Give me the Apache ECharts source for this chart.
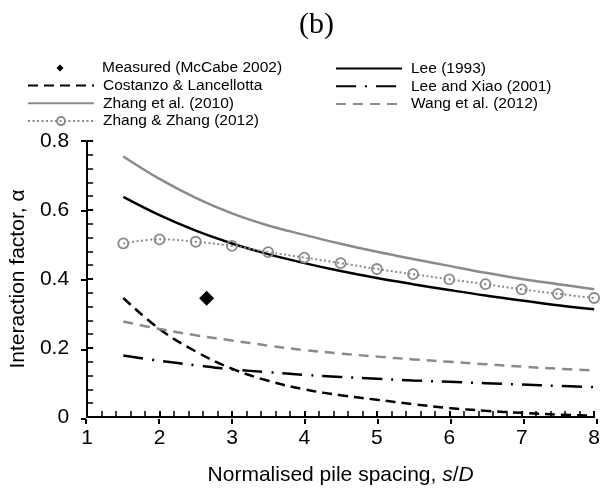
<!DOCTYPE html>
<html>
<head>
<meta charset="utf-8">
<script src="https://cdn.jsdelivr.net/npm/echarts@6/dist/echarts.min.js"></script>
<style>html,body{margin:0;padding:0;background:#fff}#c{width:603px;height:491px}</style>
</head>
<body>
<div id="c"></div>
<script>
var spacing = [1.5, 2, 2.5, 3, 3.5, 4, 4.5, 5, 5.5, 6, 6.5, 7, 7.5, 8];
var lee1993 = [0.638, 0.585, 0.54, 0.503, 0.472, 0.446, 0.423, 0.403, 0.385, 0.368, 0.352, 0.338, 0.324, 0.312];
var zhang2010 = [0.755, 0.69, 0.635, 0.59, 0.555, 0.528, 0.502, 0.479, 0.458, 0.438, 0.418, 0.40, 0.385, 0.37];
var zhangZhang2012 = [0.503, 0.515, 0.508, 0.496, 0.478, 0.462, 0.446, 0.429, 0.414, 0.399, 0.385, 0.370, 0.357, 0.345];
var costanzo = [0.345, 0.255, 0.19, 0.14, 0.105, 0.08, 0.063, 0.05, 0.037, 0.026, 0.018, 0.012, 0.007, 0.004];
var leeXiao2001 = [0.178, 0.163, 0.15, 0.138, 0.13, 0.122, 0.116, 0.111, 0.106, 0.102, 0.098, 0.094, 0.09, 0.087];
var wang2012 = [0.277, 0.255, 0.237, 0.222, 0.207, 0.194, 0.184, 0.175, 0.167, 0.16, 0.153, 0.146, 0.14, 0.135];
var measured = [[2.65, 0.344]];
var xTicks = [1, 2, 3, 4, 5, 6, 7, 8];
var yTicks = [0, 0.2, 0.4, 0.6, 0.8];

function pairs(v) { return spacing.map(function (x, i) { return [x, v[i]]; }); }

var GREY = '#8a8a8a';
var font = 'Liberation Sans, Arial, sans-serif';
var gridPos = { left: 86, right: 6, top: 141, bottom: 72 };
var legendText = { fontFamily: font, fontSize: 15.5, color: '#000', padding: [0, 0, 0, 4] };

var chart = echarts.init(document.getElementById('c'));
chart.setOption({
  animation: false,
  backgroundColor: '#fff',
  title: {
    text: '(b)', left: 299, top: 10, padding: 0,
    textStyle: { fontFamily: 'Liberation Serif, Times New Roman, serif', fontSize: 30, fontWeight: 'normal', color: '#000' }
  },
  legend: [
    {
      data: ['Measured (McCabe 2002)'], orient: 'vertical', left: 56.5, top: 60, padding: 0,
      itemWidth: 7, itemHeight: 7, itemGap: 1.8,
      textStyle: { fontFamily: font, fontSize: 15.5, color: '#000', padding: [0, 0, 0, 33.5] }
    },
    {
      data: ['Costanzo & Lancellotta', 'Zhang et al. (2010)', { name: 'Zhang & Zhang (2012)', itemStyle: { opacity: 1 } }],
      orient: 'vertical', left: 27, top: 77.5, padding: 0, itemWidth: 66, itemHeight: 10, itemGap: 1.8,
      itemStyle: { opacity: 0 },
      textStyle: legendText
    },
    {
      data: ['Lee (1993)', 'Lee and Xiao (2001)', 'Wang et al. (2012)'],
      orient: 'vertical', left: 335, top: 60.5, padding: 0, itemWidth: 66, itemHeight: 10, itemGap: 1.8,
      itemStyle: { opacity: 0 },
      textStyle: legendText
    }
  ],
  grid: [
    Object.assign({ containLabel: false }, gridPos),
    Object.assign({ containLabel: false }, gridPos)
  ],
  xAxis: [
    {
      type: 'value', gridIndex: 0, min: 1, max: 8, interval: 1,
      name: 'Normalised pile spacing, {i|s}/{i|D}', nameLocation: 'middle', nameGap: 48,
      nameTextStyle: { fontFamily: font, fontSize: 21, color: '#000',
        rich: { i: { fontFamily: font, fontSize: 21, fontStyle: 'italic', color: '#000' } } },
      axisLine: { show: true, onZero: false, lineStyle: { color: '#000', width: 2 } },
      axisTick: { show: true, inside: true, length: 6, lineStyle: { color: '#000', width: 2 } },
      minorTick: { show: true, splitNumber: 5, length: 6, lineStyle: { color: '#000', width: 1.5 } },
      axisLabel: { fontFamily: font, fontSize: 21, color: '#000', margin: 11,
        formatter: function (v) { return xTicks.indexOf(v) >= 0 ? String(v) : ''; } },
      splitLine: { show: false }
    },
    {
      type: 'value', gridIndex: 1, min: 1, max: 8, interval: 1,
      axisLine: { show: false }, axisLabel: { show: false }, splitLine: { show: false },
      axisTick: { show: true, inside: false, length: 5, lineStyle: { color: '#000', width: 2 } }
    }
  ],
  yAxis: [
    {
      type: 'value', gridIndex: 0, min: 0, max: 0.8, interval: 0.2,
      name: 'Interaction factor, α', nameLocation: 'middle', nameGap: 55, nameRotate: 90,
      nameTextStyle: { fontFamily: font, fontSize: 21, color: '#000' },
      axisLine: { show: true, onZero: false, lineStyle: { color: '#000', width: 2 } },
      axisTick: { show: true, inside: true, length: 6, lineStyle: { color: '#000', width: 2 } },
      minorTick: { show: true, splitNumber: 5, length: 6, lineStyle: { color: '#000', width: 1.5 } },
      axisLabel: { fontFamily: font, fontSize: 21, color: '#000', margin: 18,
        formatter: function (v) {
          for (var i = 0; i < yTicks.length; i++) if (Math.abs(yTicks[i] - v) < 1e-9) return v === 0 ? '0' : v.toFixed(1);
          return '';
        } },
      splitLine: { show: false }
    },
    {
      type: 'value', gridIndex: 1, min: 0, max: 0.8, interval: 0.2,
      axisLine: { show: false }, axisLabel: { show: false }, splitLine: { show: false },
      axisTick: { show: true, inside: false, length: 5, lineStyle: { color: '#000', width: 2 } }
    }
  ],
  series: [
    {
      name: 'Measured (McCabe 2002)', type: 'scatter', data: measured,
      symbol: 'diamond', symbolSize: 15, itemStyle: { color: '#000', opacity: 1 }, z: 5
    },
    {
      name: 'Lee (1993)', type: 'line', data: pairs(lee1993), smooth: 0.4, showSymbol: false, symbol: 'none',
      lineStyle: { color: '#000', width: 2.5, type: 'solid' }, itemStyle: { color: '#000' }
    },
    {
      name: 'Costanzo & Lancellotta', type: 'line', data: pairs(costanzo), smooth: 0.4, showSymbol: false, symbol: 'none',
      lineStyle: { color: '#000', width: 2.5, type: [10, 6] }, itemStyle: { color: '#000' }
    },
    {
      name: 'Lee and Xiao (2001)', type: 'line', data: pairs(leeXiao2001), smooth: 0.4, showSymbol: false, symbol: 'none',
      lineStyle: { color: '#000', width: 2.5, type: [20, 9, 2, 9] }, itemStyle: { color: '#000' }
    },
    {
      name: 'Zhang et al. (2010)', type: 'line', data: pairs(zhang2010), smooth: 0.4, showSymbol: false, symbol: 'none',
      lineStyle: { color: GREY, width: 2.5, type: 'solid' }, itemStyle: { color: GREY }
    },
    {
      name: 'Wang et al. (2012)', type: 'line', data: pairs(wang2012), smooth: 0.4, showSymbol: false, symbol: 'none',
      lineStyle: { color: GREY, width: 2.5, type: [10, 7] }, itemStyle: { color: GREY }
    },
    {
      name: 'Zhang & Zhang (2012)', type: 'line', data: pairs(zhangZhang2012), smooth: 0.4,
      symbol: 'circle', symbolSize: 10, showSymbol: true,
      lineStyle: { color: GREY, width: 2, type: [2, 2.5] },
      itemStyle: { color: 'rgba(255,255,255,0)', borderColor: GREY, borderWidth: 1.8 }, z: 4
    }
  ]
});
</script>
</body>
</html>
